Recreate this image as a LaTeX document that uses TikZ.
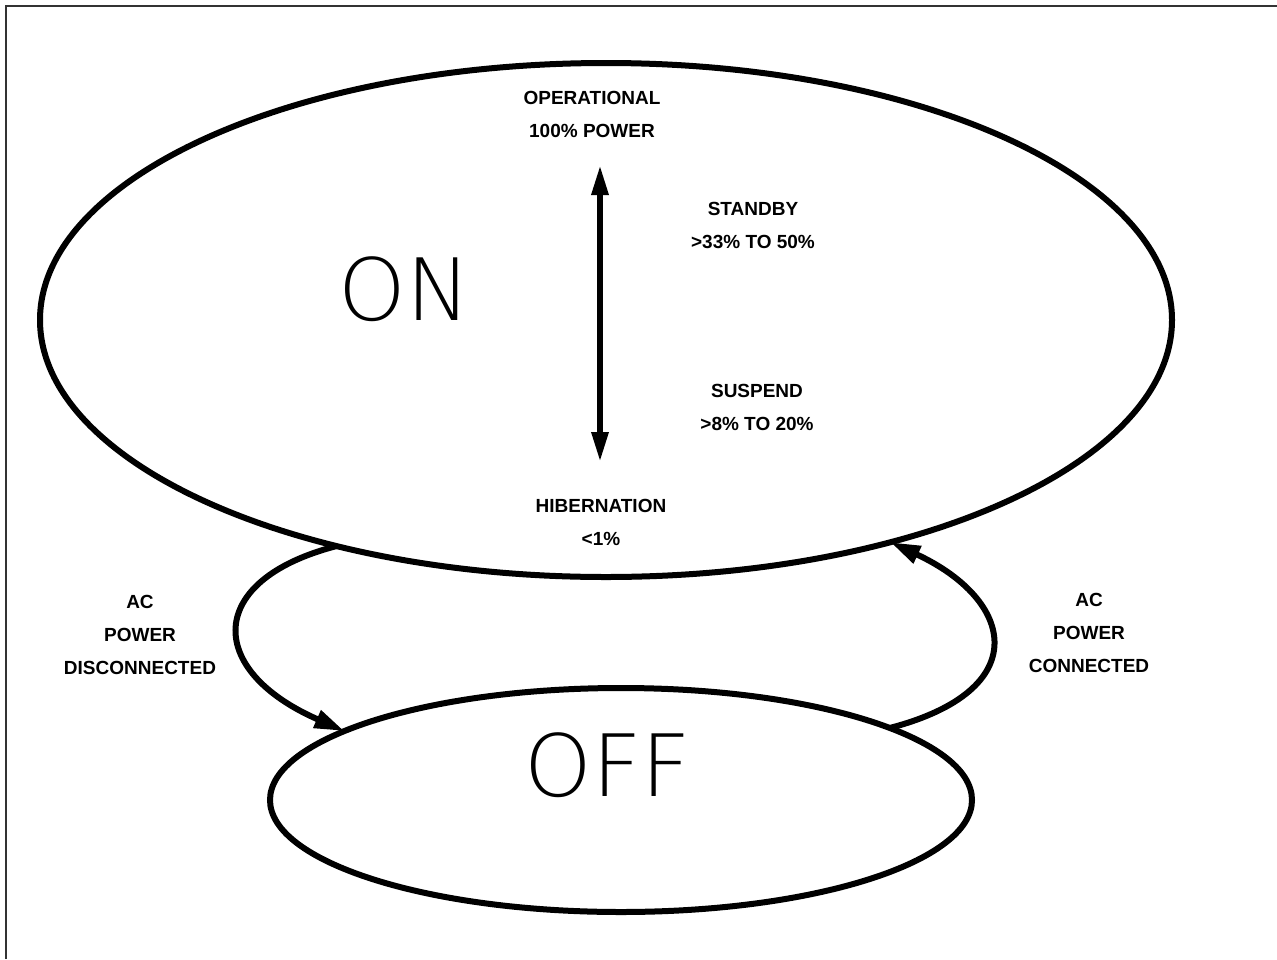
\documentclass[tikz,border=0pt]{standalone}
\usepackage{fontspec}
\setmainfont{Liberation Sans}
\newfontfamily\thinfont{DejaVu Sans ExtraLight}
\usetikzlibrary{shapes.geometric,arrows.meta}
\begin{document}
\begin{tikzpicture}[x=1pt,y=-1pt,
  statebox/.style={ellipse,draw,line width=6pt,inner sep=0pt,outer sep=0pt},
  lbl/.style={align=center,font=\fontsize{19}{33}\selectfont\bfseries,inner sep=0pt},
  bigtxt/.style={font=\fontsize{86}{90}\selectfont\thinfont,inner sep=0pt},
  conn/.style={line width=6pt,-{Triangle[length=30pt,width=18pt]}},
  dbl/.style={line width=6pt,{Triangle[length=30pt,width=16pt]}-{Triangle[length=30pt,width=16pt]}}]
\useasboundingbox (0,0) rectangle (1277,959);
\fill[white] (0,0) rectangle (1277,959);
\draw[line width=2.5pt,black!80] (6,959) -- (6,6) -- (1277,6);
% states
\node[statebox,minimum width=1132pt,minimum height=514pt] (on) at (606,320) {};
\node[statebox,minimum width=702pt,minimum height=224pt] (off) at (621,800) {};
\node[bigtxt] (ontxt) at (405,289) {ON};
\node[bigtxt] (offtxt) at (608,765) {OFF};
% inner levels
\coordinate (top) at (600,165);
\coordinate (bot) at (600,462);
\draw[dbl] (top) -- (bot);
\node[lbl] (oper) at (592,114.5) {OPERATIONAL\\100\% POWER};
\node[lbl] (stby) at (753,225.5) {STANDBY\\>33\% TO 50\%};
\node[lbl] (susp) at (757,407.5) {SUSPEND\\>8\% TO 20\%};
\node[lbl] (hib) at (601,522) {HIBERNATION\\<1\%};
% transitions
\draw[conn] (on.220.6) .. controls (205,580) and (205,670) .. (off.166.2);
\draw[conn] (off.15.6) .. controls (1035,690) and (1015,600) .. (on.322.1);
\node[lbl] (acdis) at (140,634.5) {AC\\POWER\\DISCONNECTED};
\node[lbl] (accon) at (1089,632.5) {AC\\POWER\\CONNECTED};
\end{tikzpicture}
\end{document}
